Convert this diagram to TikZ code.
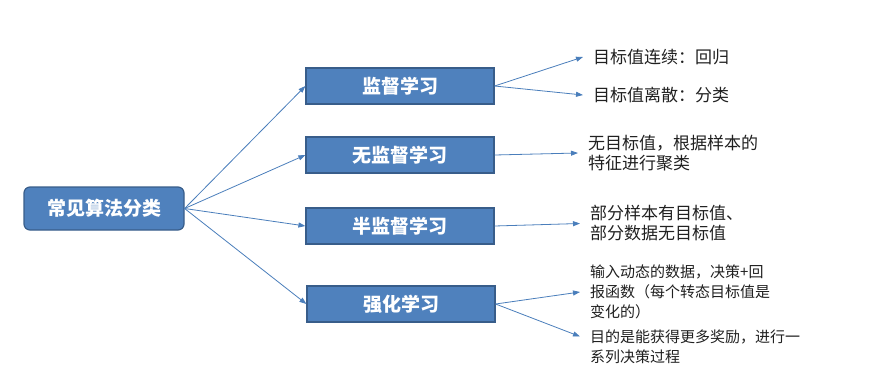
\documentclass[tikz,border=0pt]{standalone}
\usepackage{fontspec}
\setmainfont{Noto Sans CJK SC}
\usetikzlibrary{arrows.meta,calc}
\definecolor{boxfill}{HTML}{4F81BD}
\definecolor{boxline}{HTML}{385D8A}
\definecolor{arrowc}{HTML}{4A7EBB}
\definecolor{txt}{HTML}{202020}
\tikzset{
  catbox/.style={draw=boxline, line width=1.2pt, fill=boxfill, text=white,
    minimum width=188pt, minimum height=36pt, inner sep=0pt,
    font=\fontsize{19}{22}\selectfont\bfseries},
  rootbox/.style={catbox, rounded corners=6pt, minimum width=160pt, minimum height=43pt},
  desc/.style={anchor=west, align=left, text=txt, inner xsep=10pt, inner ysep=0pt,
    font=\fontsize{17}{20}\selectfont},
  descs/.style={desc, font=\fontsize{15}{20}\selectfont},
  conn/.style={draw=arrowc, line width=0.8pt, -{Triangle[length=7pt,width=5pt]}}
}
\begin{document}
\begin{tikzpicture}[x=1pt,y=-1pt]
\useasboundingbox (0,0) rectangle (870,386);
\node[rootbox] (root) at (104,208.5) {常见算法分类};
\node[catbox] (b1) at (400,86) {监督学习};
\node[catbox] (b2) at (400,155) {无监督学习};
\node[catbox] (b3) at (400,226) {半监督学习};
\node[catbox] (b4) at (401,304) {强化学习};

\node[desc] (t1) at (583,57) {目标值连续：回归};
\node[desc] (t2) at (583,95) {目标值离散：分类};
\node[desc] (t3) at (578,153) {无目标值，根据样本的\\特征进行聚类};
\node[desc] (t4) at (580,223.5) {部分样本有目标值、\\部分数据无目标值};
\node[descs] (t5) at (580,292) {输入动态的数据，决策+回\\报函数（每个转态目标值是\\变化的）};
\node[descs] (t6) at (580,346.5) {目的是能获得更多奖励，进行一\\系列决策过程};
\coordinate (t6in) at ($(t6.west)+(0,-10)$);

\foreach \b in {b1,b2,b3,b4} \draw[conn] (root.east) -- (\b.west);
\draw[conn] (b1.east) -- (t1.west);
\draw[conn] (b1.east) -- (t2.west);
\draw[conn] (b2.east) -- (t3.west);
\draw[conn] (b3.east) -- (t4.west);
\draw[conn] (b4.east) -- (t5.west);
\draw[conn] (b4.east) -- (t6in);
\end{tikzpicture}
\end{document}
